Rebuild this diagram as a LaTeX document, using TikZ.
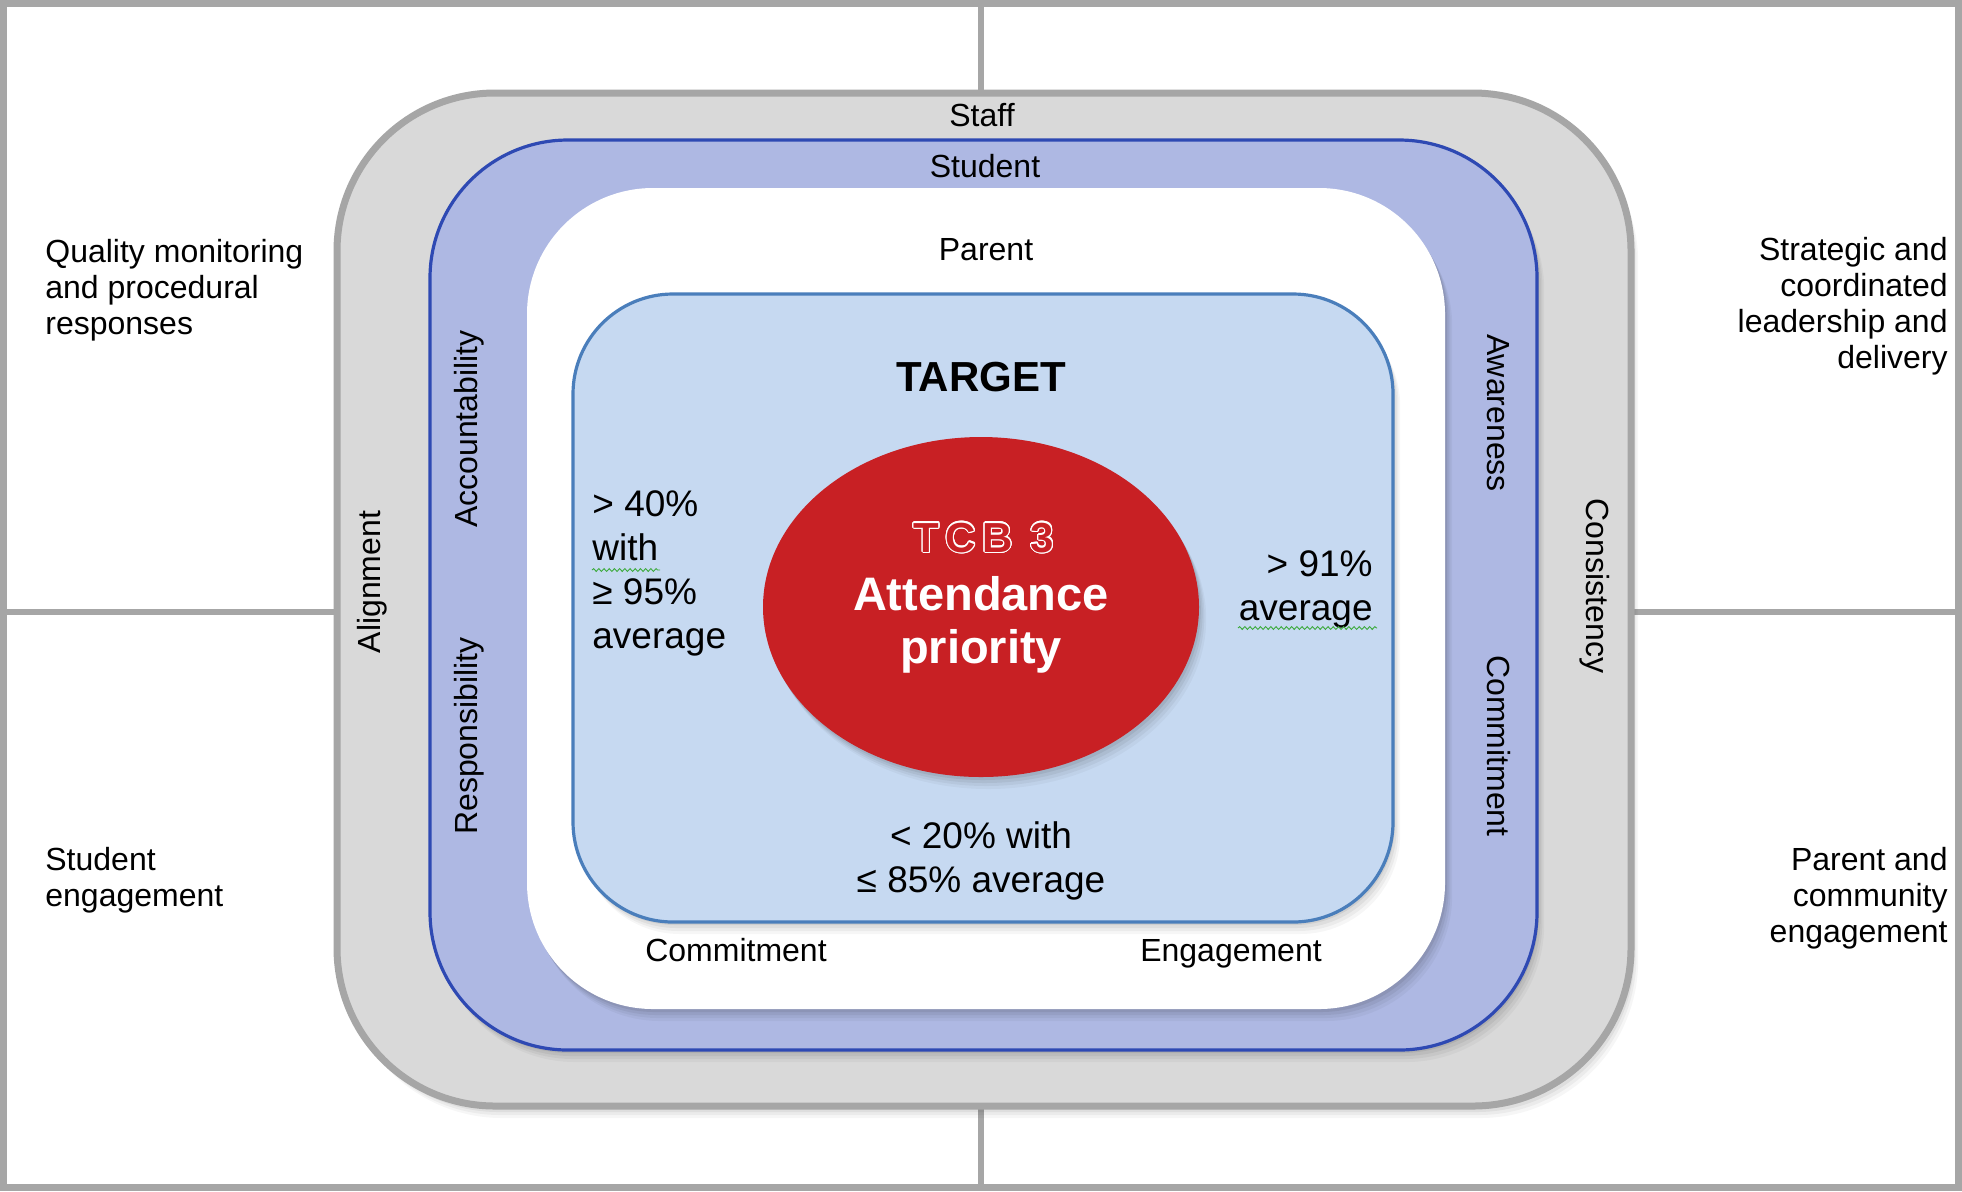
\documentclass[tikz,border=0pt]{standalone}
\usepackage{fontspec}
\setmainfont{Liberation Sans}
\newfontfamily\tcbfont[LetterSpace=15]{Liberation Sans}
\usepackage{contour}
\usetikzlibrary{decorations.pathmorphing}
\definecolor{framegray}{HTML}{A6A6A6}
\definecolor{stafffill}{HTML}{D9D9D9}
\definecolor{studfill}{HTML}{AEB8E3}
\definecolor{studline}{HTML}{2E49B3}
\definecolor{targfill}{HTML}{C6D9F1}
\definecolor{targline}{HTML}{4A7EBB}
\definecolor{tcbred}{HTML}{C82024}
\definecolor{squig}{HTML}{3DAA3D}
\newcommand{\boxshadow}[3]{%
  \foreach \d/\o in {12/0.035,9/0.045,6/0.055,3/0.065}{%
    \fill[black,opacity=\o,rounded corners=#1,shift={(0.6*\d,\d)}] (#2) rectangle (#3);}}
\contourlength{0.55pt}
\contournumber{24}
\begin{document}
\begin{tikzpicture}[x=0.5pt,y=-0.5pt,
  lbl/.style={font=\fontsize{16}{18}\selectfont, inner sep=0pt, anchor=base},
  mid/.style={font=\fontsize{18.5}{22}\selectfont, inner sep=0pt},
  corner/.style={font=\fontsize{16}{18}\selectfont, inner sep=0pt},
  grayline/.style={draw=framegray, line width=3.5pt},
  squiggle/.style={draw=squig, line width=0.45pt, decorate, decoration={snake, amplitude=0.7pt, segment length=2.6pt}}]
\useasboundingbox (0,0) rectangle (1962,1191);
\fill[white] (0,0) rectangle (1962,1191);
% frame and cross lines
\draw[grayline] (3.5,3.5) rectangle (1958.5,1187.5);
\coordinate (vt) at (981,0);
\coordinate (vb) at (981,1191);
\coordinate (hl) at (0,612);
\coordinate (hr) at (1962,612);
\draw[grayline, line width=3.2pt] (vt) -- (vb);
\draw[grayline, line width=3.2pt] (hl) -- (hr);
% Staff box
\boxshadow{79pt}{337,93}{1631,1106}
\draw[draw=framegray, fill=stafffill, line width=3.5pt, rounded corners=79pt] (337,93) rectangle (1631,1106);
% Student box
\boxshadow{69pt}{430,140}{1537,1050}
\draw[draw=studline, fill=studfill, line width=1.6pt, rounded corners=69pt] (430,140) rectangle (1537,1050);
% Parent box
\boxshadow{63pt}{527,188}{1445,1009}
\fill[white, rounded corners=63pt] (527,188) rectangle (1445,1009);
% Target box
\boxshadow{50pt}{573,294}{1393,922}
\draw[draw=targline, fill=targfill, line width=1.6pt, rounded corners=50pt] (573,294) rectangle (1393,922);
% Ellipse
\foreach \d/\o in {12/0.035,9/0.045,6/0.055,3/0.065}{%
  \fill[black,opacity=\o] (981+0.6*\d,607+\d) ellipse [x radius=218, y radius=170];}
\fill[tcbred] (981,607) ellipse [x radius=218, y radius=170];
% ring labels
\node[lbl] (staff) at (982,126) {Staff};
\node[lbl] (student) at (985,177) {Student};
\node[lbl] (parent) at (986,260) {Parent};
\node[lbl] (commitB) at (736,961) {Commitment};
\node[lbl] (engageB) at (1231,961) {Engagement};
\node[lbl, rotate=90] (alignL) at (380,582) {Alignment};
\node[lbl, rotate=90] (account) at (477,429) {Accountability};
\node[lbl, rotate=90] (respons) at (477,736) {Responsibility};
\node[lbl, rotate=-90] (aware) at (1487,413) {Awareness};
\node[lbl, rotate=-90] (commitR) at (1487,746) {Commitment};
\node[lbl, rotate=-90] (consist) at (1586,586) {Consistency};
% target texts
\node[anchor=base, inner sep=0pt, font=\fontsize{21}{25}\selectfont\bfseries] (target) at (981,391) {TARGET};
\node[mid, anchor=base west, align=left] (leftT) at (592,648) {> 40\%\\with\\≥ 95\%\\average};
\node[mid, anchor=base east, align=right] (rightT) at (1373,620) {> 91\%\\average};
\node[mid, anchor=base, align=center] (bottomT) at (981,892) {< 20\% with\\≤ 85\% average};
\draw[squiggle] (592,570) -- (660,570);
\draw[squiggle] (1238,628) -- (1377,628);
% ellipse texts
\node[anchor=base, inner sep=0pt, font=\tcbfont\bfseries\fontsize{21}{25}\selectfont] (tcb) at (984,552) {\contour{white}{\textcolor{tcbred}{TCB 3}}};
\node[anchor=base, inner sep=0pt, text=white, font=\fontsize{23.5}{27}\selectfont\bfseries] (attend) at (981,610) {Attendance};
\node[anchor=base, inner sep=0pt, text=white, font=\fontsize{23.5}{27}\selectfont\bfseries] (prio) at (981,663) {priority};
% corner texts
\node[corner, anchor=base west, align=left] (quality) at (45,334) {Quality monitoring\\and procedural\\responses};
\node[corner, anchor=base west, align=left] (stueng) at (45,906) {Student\\engagement};
\node[corner, anchor=base east, align=right] (strat) at (1948,368) {Strategic and\\coordinated\\leadership and\\delivery};
\node[corner, anchor=base east, align=right] (parcom) at (1948,942) {Parent and\\community\\engagement};
\end{tikzpicture}
\end{document}
